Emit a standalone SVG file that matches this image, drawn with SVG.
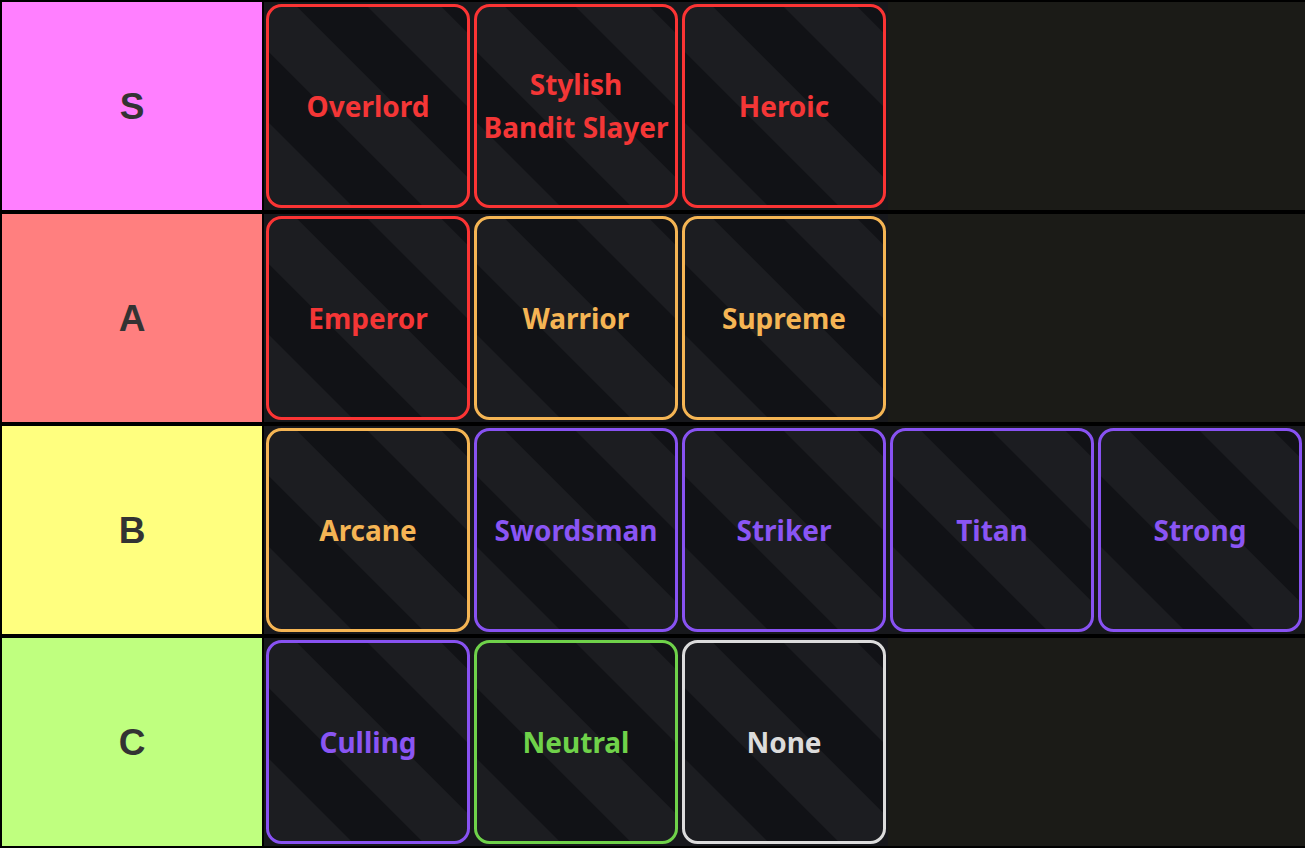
<svg xmlns="http://www.w3.org/2000/svg" width="1305" height="848" viewBox="0 0 1305 848">
<defs>
<pattern id="stripes" patternUnits="userSpaceOnUse" width="102" height="20" patternTransform="rotate(-45)">
<rect x="0" y="0" width="102" height="20" fill="#1c1d21"/>
<rect x="20" y="0" width="50" height="20" fill="#111216"/>
</pattern>
<style>
.lab{font-family:"Liberation Sans",Arial,sans-serif;font-weight:bold;font-size:37px;fill:#333333;text-anchor:middle}
.cell{fill:#17181c}
.card{fill:url(#stripes);stroke-width:3}
.t{font-family:"Noto Sans","DejaVu Sans",sans-serif;font-weight:bold;font-size:28px;text-anchor:middle}
.red .card{stroke:#fb3434}.red text{fill:#f43636}
.org .card{stroke:#f5b554}.org text{fill:#f5b554}
.pur .card{stroke:#8852f2}.pur text{fill:#8a55f4}
.grn .card{stroke:#6fd24a}.grn text{fill:#6fd24a}
.wht .card{stroke:#dcdcdc}.wht text{fill:#dcdcdc}
</style>
</defs>
<rect width="1305" height="848" fill="#000"/>
<g id="tiers">
<g id="tier-S"><rect x="2" y="2" width="260" height="208" fill="#ff7fff"/><rect x="264" y="2" width="1041" height="208" fill="#1b1b17"/><text class="lab" x="132" y="119">S</text></g>
<g id="tier-A"><rect x="2" y="214" width="260" height="208" fill="#ff7f7f"/><rect x="264" y="214" width="1041" height="208" fill="#1b1b17"/><text class="lab" x="132" y="331">A</text></g>
<g id="tier-B"><rect x="2" y="426" width="260" height="208" fill="#ffff7f"/><rect x="264" y="426" width="1041" height="208" fill="#1b1b17"/><text class="lab" x="132" y="543">B</text></g>
<g id="tier-C"><rect x="2" y="638" width="260" height="208" fill="#bfff7f"/><rect x="264" y="638" width="1041" height="208" fill="#1b1b17"/><text class="lab" x="132" y="755">C</text></g>
</g>
<g id="connectors"/>
<g id="item-overlord" class="red" transform="translate(264,2)"><rect class="cell" width="208" height="208"/><rect class="card" x="3.5" y="3.5" width="201" height="201" rx="14"/><text class="t" x="104" y="115">Overlord</text></g>
<g id="item-stylish" class="red" transform="translate(472,2)"><rect class="cell" width="208" height="208"/><rect class="card" x="3.5" y="3.5" width="201" height="201" rx="14"/><text class="t" x="104" y="93">Stylish</text><text class="t" x="104" y="136">Bandit Slayer</text></g>
<g id="item-heroic" class="red" transform="translate(680,2)"><rect class="cell" width="208" height="208"/><rect class="card" x="3.5" y="3.5" width="201" height="201" rx="14"/><text class="t" x="104" y="115">Heroic</text></g>

<g id="item-emperor" class="red" transform="translate(264,214)"><rect class="cell" width="208" height="208"/><rect class="card" x="3.5" y="3.5" width="201" height="201" rx="14"/><text class="t" x="104" y="115">Emperor</text></g>
<g id="item-warrior" class="org" transform="translate(472,214)"><rect class="cell" width="208" height="208"/><rect class="card" x="3.5" y="3.5" width="201" height="201" rx="14"/><text class="t" x="104" y="115">Warrior</text></g>
<g id="item-supreme" class="org" transform="translate(680,214)"><rect class="cell" width="208" height="208"/><rect class="card" x="3.5" y="3.5" width="201" height="201" rx="14"/><text class="t" x="104" y="115">Supreme</text></g>

<g id="item-arcane" class="org" transform="translate(264,426)"><rect class="cell" width="208" height="208"/><rect class="card" x="3.5" y="3.5" width="201" height="201" rx="14"/><text class="t" x="104" y="115">Arcane</text></g>
<g id="item-swordsman" class="pur" transform="translate(472,426)"><rect class="cell" width="208" height="208"/><rect class="card" x="3.5" y="3.5" width="201" height="201" rx="14"/><text class="t" x="104" y="115">Swordsman</text></g>
<g id="item-striker" class="pur" transform="translate(680,426)"><rect class="cell" width="208" height="208"/><rect class="card" x="3.5" y="3.5" width="201" height="201" rx="14"/><text class="t" x="104" y="115">Striker</text></g>
<g id="item-titan" class="pur" transform="translate(888,426)"><rect class="cell" width="208" height="208"/><rect class="card" x="3.5" y="3.5" width="201" height="201" rx="14"/><text class="t" x="104" y="115">Titan</text></g>
<g id="item-strong" class="pur" transform="translate(1096,426)"><rect class="cell" width="208" height="208"/><rect class="card" x="3.5" y="3.5" width="201" height="201" rx="14"/><text class="t" x="104" y="115">Strong</text></g>

<g id="item-culling" class="pur" transform="translate(264,638)"><rect class="cell" width="208" height="208"/><rect class="card" x="3.5" y="3.5" width="201" height="201" rx="14"/><text class="t" x="104" y="115">Culling</text></g>
<g id="item-neutral" class="grn" transform="translate(472,638)"><rect class="cell" width="208" height="208"/><rect class="card" x="3.5" y="3.5" width="201" height="201" rx="14"/><text class="t" x="104" y="115">Neutral</text></g>
<g id="item-none" class="wht" transform="translate(680,638)"><rect class="cell" width="208" height="208"/><rect class="card" x="3.5" y="3.5" width="201" height="201" rx="14"/><text class="t" x="104" y="115">None</text></g>
</svg>
